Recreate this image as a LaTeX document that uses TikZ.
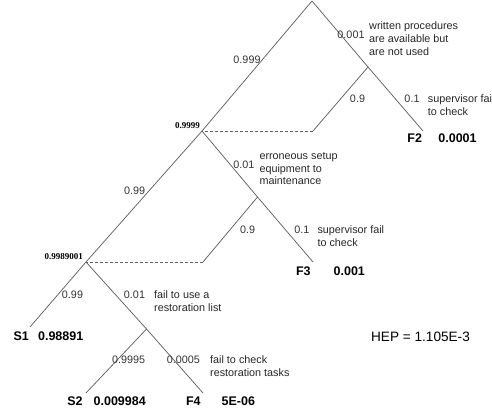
\documentclass[tikz,border=0pt]{standalone}
\usepackage{fontspec}
\setmainfont{Liberation Sans}
\newfontfamily\serifbold{Liberation Serif}
\begin{document}
\begin{tikzpicture}[x=1pt,y=-1pt,
  branch/.style={draw=black!62,line width=0.75pt},
  recov/.style={draw=black!62,line width=0.75pt,dash pattern=on 3pt off 2pt},
  prob/.style={inner sep=0pt,anchor=base,text=black!80,font=\fontsize{10.8}{12.8}\selectfont},
  desc/.style={inner sep=0pt,anchor=base west,align=left,text=black!85,font=\fontsize{10.8}{12.8}\selectfont},
  outc/.style={inner sep=0pt,anchor=base,font=\fontsize{12.5}{14}\selectfont\bfseries},
  cum/.style={inner sep=0pt,anchor=base east,font=\fontsize{9}{10}\selectfont\serifbold\bfseries}]
\useasboundingbox (0,0) rectangle (492,414);
% tree points
\coordinate (A) at (312,1);
\coordinate (B) at (202,131);
\coordinate (J1) at (368,67);
\coordinate (E2) at (423,131);
\coordinate (D1) at (313,131);
\coordinate (C) at (86,262);
\coordinate (J2) at (257.5,197);
\coordinate (E3) at (313,262);
\coordinate (D2) at (203,262);
\coordinate (ES1) at (30,327);
\coordinate (J3) at (146.5,329);
\coordinate (E4) at (203,393);
\coordinate (ES2) at (86,393);
% branches
\draw[branch] (A) -- (B);
\draw[branch] (A) -- (J1) -- (E2);
\draw[branch] (J1) -- (D1);
\draw[recov] (D1) -- (B);
\draw[branch] (B) -- (C);
\draw[branch] (B) -- (J2) -- (E3);
\draw[branch] (J2) -- (D2);
\draw[recov] (D2) -- (C);
\draw[branch] (C) -- (ES1);
\draw[branch] (C) -- (J3) -- (E4);
\draw[branch] (J3) -- (ES2);
% probabilities
\node[prob] (p1) at (247,64) {0.999};
\node[prob] (p2) at (351,38.3) {0.001};
\node[prob] (p3) at (357.5,102.7) {0.9};
\node[prob] (p4) at (412,102.7) {0.1};
\node[prob] (p5) at (243.8,168.3) {0.01};
\node[prob] (p6) at (134.7,194) {0.99};
\node[prob] (p7) at (247.7,233.3) {0.9};
\node[prob] (p8) at (301.8,233.3) {0.1};
\node[prob] (p9) at (72.5,298.3) {0.99};
\node[prob] (p10) at (134.5,298.3) {0.01};
\node[prob] (p11) at (128.7,363.3) {0.9995};
\node[prob] (p12) at (183.3,363.3) {0.0005};
% descriptions (anchored at the baseline of the last line)
\node[desc] (d1) at (369,55.3) {written procedures\\are available but\\are not used};
\node[desc] (d2) at (427.7,115.5) {supervisor fail\\to check};
\node[desc] (d3) at (259.3,184.9) {erroneous setup\\equipment to\\maintenance};
\node[desc] (d4) at (317.3,246.1) {supervisor fail\\to check};
\node[desc] (d5) at (154,311.1) {fail to use a\\restoration list};
\node[desc] (d6) at (210,376.1) {fail to check\\restoration tasks};
% cumulative values
\node[cum] (c1) at (200,129) {0.9999};
\node[cum] (c2) at (83,259) {0.9989001};
% outcomes
\node[outc] (f2) at (414.7,142.3) {F2};
\node[outc] (f2v) at (457.5,142.3) {0.0001};
\node[outc] (f3) at (303.3,275) {F3};
\node[outc] (f3v) at (349.3,275) {0.001};
\node[outc] (s1) at (21.2,340.7) {S1};
\node[outc] (s1v) at (60.7,340.7) {0.98891};
\node[outc] (s2) at (75,405.7) {S2};
\node[outc] (s2v) at (119.7,405.7) {0.009984};
\node[outc] (f4) at (193.3,405.7) {F4};
\node[outc] (f4v) at (238.3,405.7) {5E-06};
\node[inner sep=0pt,anchor=base,font=\fontsize{13.6}{15}\selectfont] (hep) at (420.5,341.3) {HEP = 1.105E-3};
\end{tikzpicture}
\end{document}
